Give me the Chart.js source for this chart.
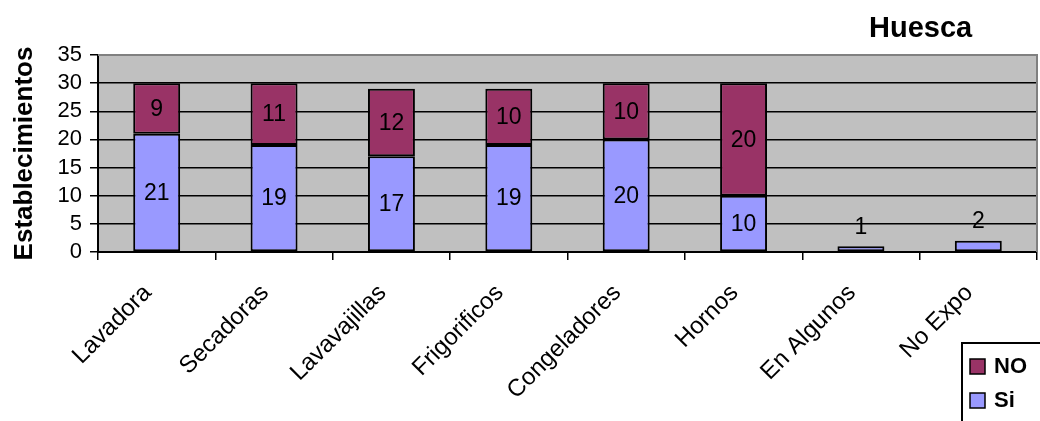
<!DOCTYPE html>
<html>
<head>
<meta charset="utf-8">
<style>
  html, body { margin: 0; padding: 0; background: #fff; }
  #wrap { width: 1040px; height: 421px; }
</style>
</head>
<body>
<div id="wrap"><canvas id="chart" width="1040" height="421"></canvas></div>

<script src="https://cdn.jsdelivr.net/npm/chart.js@4.4.0/dist/chart.umd.min.js"></script>
<script>
  // electrodomesticos por establecimiento (Huesca)
  const categories = ['Lavadora', 'Secadoras', 'Lavavajillas', 'Frigorificos', 'Congeladores', 'Hornos', 'En Algunos', 'No Expo'];
  const siValues = [21, 19, 17, 19, 20, 10, 1, 2];
  const noValues = [9, 11, 12, 10, 10, 20, 0, 0];
  const yTicks = [0, 5, 10, 15, 20, 25, 30, 35];

  const FONT = '"Liberation Sans", Arial, sans-serif';

  // gray plot background with the gray frame on top/right
  const plotArea = {
    id: 'plotArea',
    beforeDraw(chart) {
      const { ctx, chartArea: a } = chart;
      ctx.save();
      ctx.fillStyle = '#C0C0C0';
      ctx.fillRect(a.left, a.top, a.right - a.left, a.bottom - a.top);
      ctx.restore();
    },
    beforeDatasetsDraw(chart) {
      const { ctx, chartArea: a } = chart;
      ctx.save();
      ctx.strokeStyle = '#808080';
      ctx.lineWidth = 2;
      ctx.beginPath();
      ctx.moveTo(a.left, a.top);
      ctx.lineTo(a.right, a.top);
      ctx.lineTo(a.right, a.bottom);
      ctx.stroke();
      ctx.restore();
    }
  };

  // value labels, centred in each segment (above the bar when too short)
  const valueLabels = {
    id: 'valueLabels',
    afterDatasetsDraw(chart) {
      const { ctx } = chart;
      ctx.save();
      ctx.font = '23px ' + FONT;
      ctx.fillStyle = '#000';
      ctx.textAlign = 'center';
      ctx.textBaseline = 'middle';
      chart.data.datasets.forEach((ds, i) => {
        chart.getDatasetMeta(i).data.forEach((bar, j) => {
          const v = ds.data[j];
          if (!v) return;
          const h = bar.base - bar.y;
          const y = h < 22 ? bar.y - 20 : (bar.y + bar.base) / 2;
          ctx.fillText(String(v), bar.x, y + 1);
        });
      });
      ctx.restore();
    }
  };

  // boxed legend at the lower right
  const boxLegend = {
    id: 'boxLegend',
    afterDraw(chart) {
      const { ctx } = chart;
      const items = chart.data.datasets.slice().reverse();
      ctx.save();
      ctx.strokeStyle = '#000';
      ctx.lineWidth = 2;
      ctx.strokeRect(962, 343, 90, 90);
      ctx.font = 'bold 22px ' + FONT;
      ctx.textBaseline = 'middle';
      items.forEach((ds, k) => {
        const cy = 366 + k * 34;
        ctx.fillStyle = ds.backgroundColor;
        ctx.fillRect(970, cy - 7, 15, 15);
        ctx.lineWidth = 1.5;
        ctx.strokeRect(970, cy - 7, 15, 15);
        ctx.fillStyle = '#000';
        ctx.fillText(ds.label, 994, cy + 1);
      });
      ctx.restore();
    }
  };

  // chart title at the upper right
  const cornerTitle = {
    id: 'cornerTitle',
    afterDraw(chart) {
      const { ctx } = chart;
      ctx.save();
      ctx.font = 'bold 29px ' + FONT;
      ctx.fillStyle = '#000';
      ctx.textAlign = 'left';
      ctx.textBaseline = 'middle';
      ctx.fillText('Huesca', 869, 29);
      ctx.restore();
    }
  };

  new Chart(document.getElementById('chart'), {
    type: 'bar',
    data: {
      labels: categories,
      datasets: [
        {
          label: 'Si',
          data: siValues,
          backgroundColor: '#9999FF',
          borderColor: '#000',
          borderWidth: 2,
          borderSkipped: false,
          categoryPercentage: 1,
          barPercentage: 0.4
        },
        {
          label: 'NO',
          data: noValues,
          backgroundColor: '#993366',
          borderColor: '#000',
          borderWidth: 2,
          borderSkipped: false,
          categoryPercentage: 1,
          barPercentage: 0.4
        }
      ]
    },
    options: {
      responsive: false,
      animation: false,
      layout: { padding: { top: 55, right: 3, left: 0, bottom: 0 } },
      plugins: {
        legend: { display: false },
        tooltip: { enabled: false }
      },
      scales: {
        x: {
          stacked: true,
          offset: true,
          grid: {
            offset: true,
            drawOnChartArea: false,
            drawTicks: true,
            tickLength: 8,
            color: '#000',
            lineWidth: 1.5
          },
          border: { display: true, color: '#000', width: 2 },
          ticks: {
            color: '#000',
            font: { family: FONT, size: 24 },
            maxRotation: 45,
            minRotation: 45,
            padding: 19,
            labelOffset: -9,
            autoSkip: false
          },
          afterFit(scale) {
            scale.height = 169;
            scale.paddingLeft = 0;
            scale.paddingRight = 0;
          }
        },
        y: {
          stacked: true,
          min: 0,
          max: 35,
          afterBuildTicks(scale) {
            scale.ticks = yTicks.map(v => ({ value: v }));
          },
          grid: {
            color: ctx => (ctx.tick && ctx.tick.value === 35 ? '#808080' : '#000'),
            lineWidth: 1.5,
            tickLength: 8,
            tickColor: '#000'
          },
          border: { display: true, color: '#000', width: 2 },
          ticks: {
            color: '#000',
            font: { family: FONT, size: 22 },
            padding: 8,
            autoSkip: false
          },
          title: {
            display: true,
            text: 'Establecimientos',
            color: '#000',
            font: { family: FONT, size: 26, weight: 'bold' },
            padding: { top: 9, bottom: 0 }
          },
          afterFit(scale) {
            scale.width = 98;
            scale.paddingTop = 0;
            scale.paddingBottom = 0;
          }
        }
      }
    },
    plugins: [plotArea, valueLabels, boxLegend, cornerTitle]
  });
</script>
</body>
</html>
